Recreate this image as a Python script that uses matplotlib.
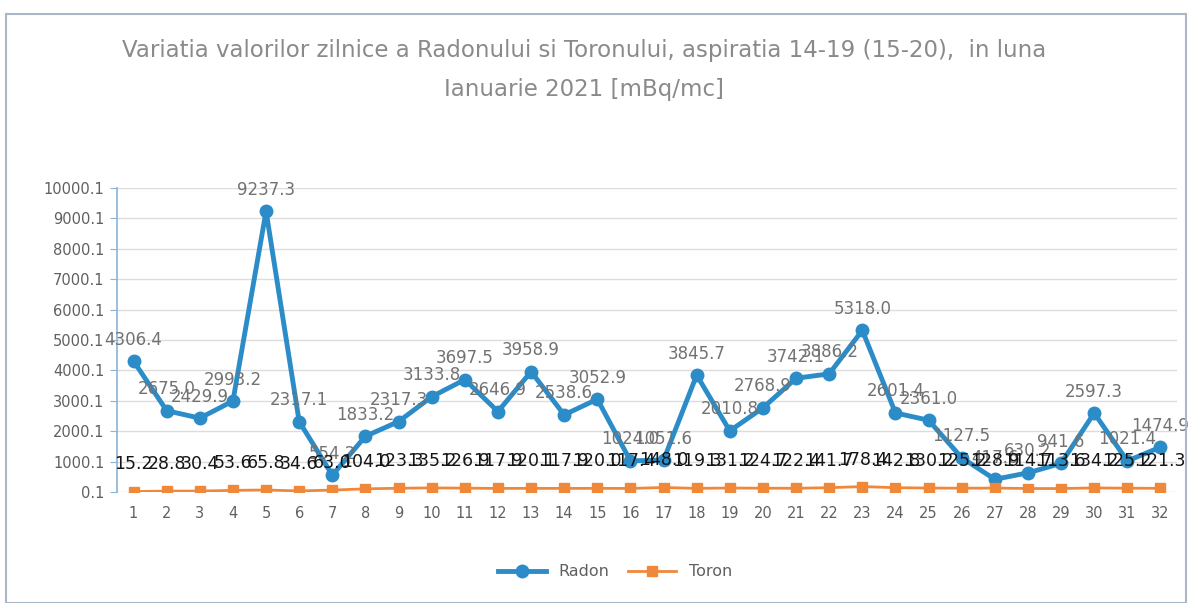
import matplotlib
matplotlib.use("Agg")
import matplotlib.pyplot as plt
from matplotlib.patches import Rectangle

days = list(range(1, 33))
radon = [4306.4, 2675.0, 2429.9, 2993.2, 9237.3, 2317.1, 554.2, 1833.2, 2317.3, 3133.8,
         3697.5, 2646.9, 3958.9, 2538.6, 3052.9, 1024.0, 1051.6, 3845.7, 2010.8, 2768.9,
         3742.1, 3886.2, 5318.0, 2601.4, 2361.0, 1127.5, 417.6, 630.2, 941.6, 2597.3,
         1021.4, 1474.9]
toron = [15.2, 28.8, 30.4, 53.6, 65.8, 34.6, 63.0, 104.0, 123.3, 135.2,
         126.9, 117.9, 120.1, 117.9, 120.0, 117.4, 148.0, 119.3, 131.2, 124.7,
         122.4, 141.7, 178.4, 142.8, 130.2, 125.2, 128.9, 114.7, 113.6, 134.2,
         125.2, 121.3]
yticks = [0.1 + 1000 * i for i in range(11)]
title = "Variatia valorilor zilnice a Radonului si Toronului, aspiratia 14-19 (15-20),  in luna\nIanuarie 2021 [mBq/mc]"

plt.rcParams['font.family'] = ['DejaVu Sans']
fig = plt.figure(figsize=(11.92, 6.03), dpi=100)
ax = fig.add_axes([117/1192, 1-492/603, (1177-117)/1192, (492-188)/603])

blue = '#2b8cc8'
orange = '#f0883a'

ax.plot(days, radon, color=blue, lw=3.5, marker='o', ms=9, label='Radon', zorder=3)
ax.plot(days, toron, color=orange, lw=2, marker='s', ms=7, label='Toron', zorder=3)

for x, v in zip(days, radon):
    ax.annotate(f"{v:.1f}", (x, v), xytext=(0, 9), textcoords='offset points',
                ha='center', va='bottom', fontsize=12, color='#727272', zorder=4)
for x, v in zip(days, toron):
    ax.annotate(f"{v:.1f}", (x, v), xytext=(0, 13), textcoords='offset points',
                ha='center', va='bottom', fontsize=12.5, color='#151515', zorder=5)

ax.set_xlim(0.5, 32.5)
ax.set_ylim(0.1, 10000.1)
ax.set_yticks(yticks)
ax.set_yticklabels([f"{t:.1f}" for t in yticks], fontsize=10.5, color='#606060')
ax.set_xticks(days)
ax.set_xticklabels([str(d) for d in days], fontsize=10.5, color='#606060')
ax.grid(axis='y', color='#dcdcdc', lw=1)
ax.set_axisbelow(True)
for s in ['top', 'right', 'bottom']:
    ax.spines[s].set_visible(False)
ax.spines['left'].set_color('#8ab4d8')
ax.spines['left'].set_linewidth(1.2)
ax.tick_params(axis='y', length=5, color='#8ab4d8', direction='out', pad=4)
ax.tick_params(axis='x', length=0, pad=10)

fig.text(0.49, 1-70/603, title, ha='center', va='center', fontsize=16.5,
         color='#8a8a8a', linespacing=1.9)

leg = fig.legend(loc='center', bbox_to_anchor=(615/1192, 1-572/603), ncol=2,
                 frameon=False, fontsize=11.5, handlelength=3, columnspacing=1.2)
for t in leg.get_texts():
    t.set_color('#606060')

fig.patches.append(Rectangle((6/1192, 0.0), 1180/1192, 1-14/603, transform=fig.transFigure,
                             fill=False, edgecolor='#a8b8c8', lw=1.5))

fig.savefig('out.png', dpi=100)
